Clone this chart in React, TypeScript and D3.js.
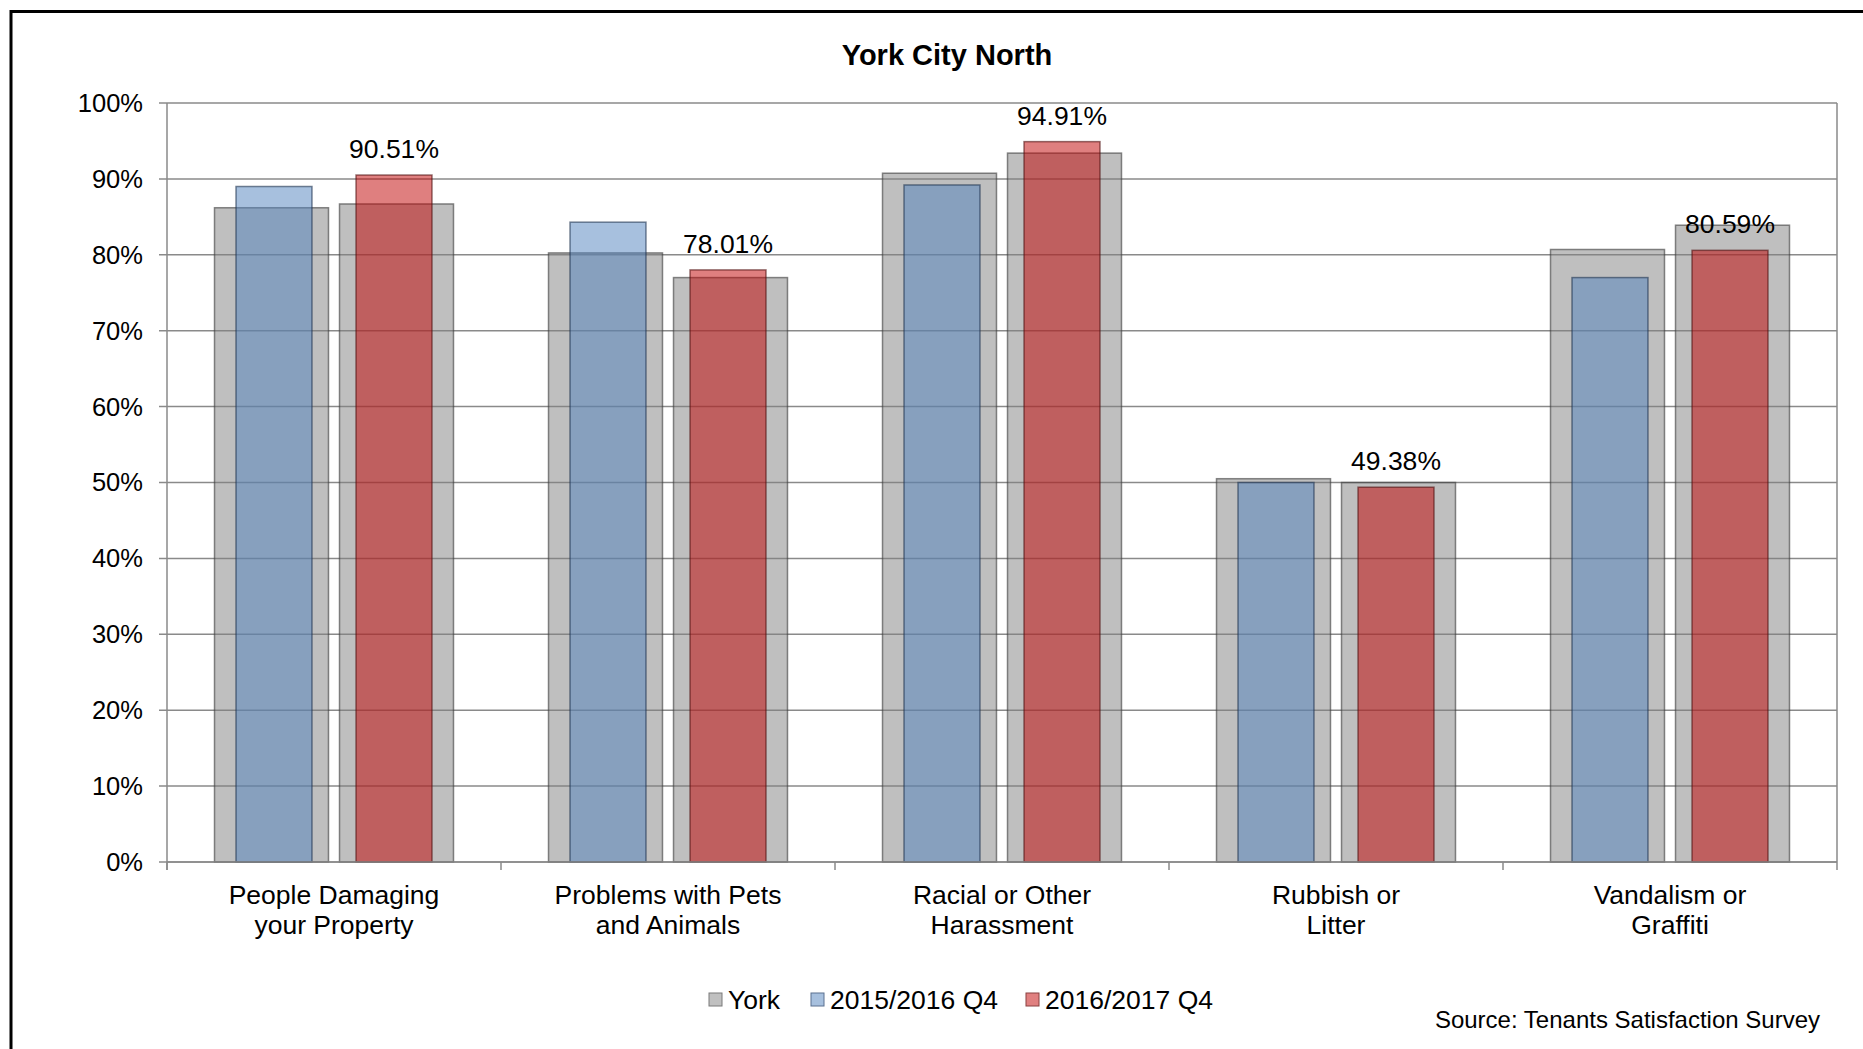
import React from "react";
import * as d3 from "d3";

const categories = [
  ["People Damaging", "your Property"],
  ["Problems with Pets", "and Animals"],
  ["Racial or Other", "Harassment"],
  ["Rubbish or", "Litter"],
  ["Vandalism or", "Graffiti"],
];

// York benchmark for each period (drawn wide, behind)
const york1516 = [86.2, 80.25, 90.75, 50.5, 80.7];
const york1617 = [86.7, 77.0, 93.4, 50.0, 83.9];

// York City North
const north1516 = [89.0, 84.3, 89.2, 50.0, 77.0];
const north1617 = [90.51, 78.01, 94.91, 49.38, 80.59];

const yTicks = [0, 10, 20, 30, 40, 50, 60, 70, 80, 90, 100];
const legendItems = ["York", "2015/2016 Q4", "2016/2017 Q4"];

const W = 1863;
const H = 1049;
const FONT = "'Liberation Sans', Arial, sans-serif";

const App: React.FC = () => {
  const plot = { left: 167, right: 1837, top: 103, bottom: 862 };

  const x0 = d3
    .scaleBand<number>()
    .domain(categories.map((_, i) => i))
    .range([plot.left, plot.right]);

  // wide grey bars
  const xYork = d3
    .scaleBand<string>()
    .domain(["a", "b"])
    .range([0, x0.bandwidth()])
    .paddingInner(0.088)
    .paddingOuter(0.38);

  // narrow coloured bars
  const xArea = d3
    .scaleBand<string>()
    .domain(["a", "b"])
    .range([0, x0.bandwidth()])
    .paddingInner(0.367)
    .paddingOuter(0.575);

  const y = d3.scaleLinear().domain([0, 100]).range([plot.bottom, plot.top]);

  const yorkBars = categories.flatMap((_, i) => [
    { i, k: "a", v: york1516[i] },
    { i, k: "b", v: york1617[i] },
  ]);

  return (
    <svg
      width={W}
      height={H}
      style={{ position: "absolute", left: 0, top: 0, background: "#fff" }}
      fontFamily={FONT}
    >
      {/* outer frame */}
      <rect x={11} y={11.5} width={W + 50} height={H + 50} fill="none" stroke="#000" strokeWidth={3} />

      <text x={947} y={65} textAnchor="middle" fontSize={29} fontWeight="bold">
        York City North
      </text>

      {/* gridlines */}
      {yTicks.map((t) => (
        <g key={t}>
          <line x1={plot.left - 8} x2={plot.right} y1={y(t)} y2={y(t)} stroke="#8a8a8a" strokeWidth={1.5} />
          <text x={143} y={y(t)} dy="0.35em" textAnchor="end" fontSize={25.5}>
            {t}%
          </text>
        </g>
      ))}
      <line x1={plot.right} x2={plot.right} y1={plot.top} y2={plot.bottom} stroke="#8a8a8a" strokeWidth={1.5} />
      <line x1={plot.left} x2={plot.left} y1={plot.top} y2={plot.bottom + 8} stroke="#8a8a8a" strokeWidth={1.5} />

      {/* york bars */}
      {yorkBars.map((d) => (
        <rect
          key={`y${d.i}${d.k}`}
          x={x0(d.i)! + xYork(d.k)!}
          y={y(d.v)}
          width={xYork.bandwidth()}
          height={y(0) - y(d.v)}
          fill="#808080"
          fillOpacity={0.5}
          stroke="#3a3a3a"
          strokeOpacity={0.6}
          strokeWidth={1.5}
        />
      ))}

      {/* 2015/2016 */}
      {north1516.map((v, i) => (
        <rect
          key={`b${i}`}
          x={x0(i)! + xArea("a")!}
          y={y(v)}
          width={xArea.bandwidth()}
          height={y(0) - y(v)}
          fill="#4f81bd"
          fillOpacity={0.5}
          stroke="#1f3350"
          strokeOpacity={0.6}
          strokeWidth={1.5}
        />
      ))}

      {/* 2016/2017 */}
      {north1617.map((v, i) => (
        <g key={`r${i}`}>
          <rect
            x={x0(i)! + xArea("b")!}
            y={y(v)}
            width={xArea.bandwidth()}
            height={y(0) - y(v)}
            fill="#c00000"
            fillOpacity={0.5}
            stroke="#501010"
            strokeOpacity={0.6}
            strokeWidth={1.5}
          />
          <text
            x={x0(i)! + xArea("b")! + xArea.bandwidth() / 2}
            y={y(v) - 17}
            textAnchor="middle"
            fontSize={26.5}
          >
            {v.toFixed(2)}%
          </text>
        </g>
      ))}

      {/* x axis */}
      <line x1={plot.left} x2={plot.right} y1={plot.bottom} y2={plot.bottom} stroke="#8a8a8a" strokeWidth={1.5} />
      {d3.range(categories.length + 1).map((i) => {
        const xx = i < categories.length ? x0(i)! : plot.right;
        return <line key={`t${i}`} x1={xx} x2={xx} y1={plot.bottom} y2={plot.bottom + 8} stroke="#8a8a8a" strokeWidth={1.5} />;
      })}
      {categories.map((lines, i) => (
        <text key={`c${i}`} x={x0(i)! + x0.bandwidth() / 2} y={904} textAnchor="middle" fontSize={26.5}>
          {lines.map((l, j) => (
            <tspan key={j} x={x0(i)! + x0.bandwidth() / 2} dy={j === 0 ? 0 : 30}>
              {l}
            </tspan>
          ))}
        </text>
      ))}

      {/* legend */}
      {legendItems.map((name, i) => {
        const sx = [709, 811, 1026][i];
        const fills = ["#c0c0c0", "#a7c0de", "#e08080"];
        const strokes = ["#7a7a7a", "#5a7090", "#8a4040"];
        return (
          <g key={name}>
            <rect x={sx} y={993} width={13} height={13} fill={fills[i]} stroke={strokes[i]} strokeWidth={1} />
            <text x={sx + 19} y={1000} dy="0.35em" fontSize={26.5}>
              {name}
            </text>
          </g>
        );
      })}

      <text x={1820} y={1028} textAnchor="end" fontSize={24}>
        Source: Tenants Satisfaction Survey
      </text>
    </svg>
  );
};

export default App;
